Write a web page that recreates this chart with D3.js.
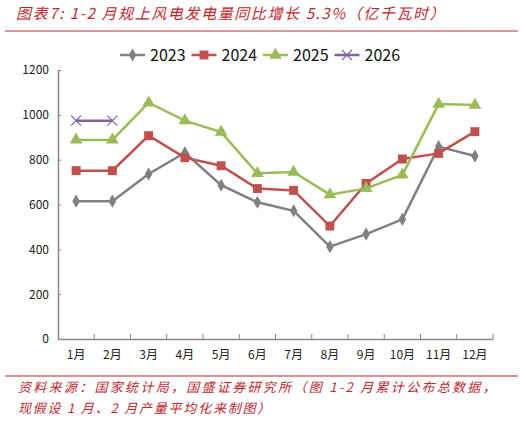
<!DOCTYPE html>
<html lang="zh">
<head>
<meta charset="UTF-8">
<title>风电发电量</title>
<style>
body { margin: 0; background: #fff; }
text { font-family: 'Noto Sans CJK SC', 'DejaVu Sans', sans-serif; }
.note { fill: #c0272d; font-style: italic; }
.tick text { font-size: 12px; fill: #222; }
</style>
</head>
<body>
<svg width="526" height="421"></svg>
<script src="https://d3js.org/d3.v7.min.js"></script>
<script>

var months = ["1月", "2月", "3月", "4月", "5月", "6月", "7月", "8月", "9月", "10月", "11月", "12月"];
var yTicks = [0, 200, 400, 600, 800, 1000, 1200];

var v2023 = [615, 615, 736, 831, 686, 610, 572, 412, 468, 534, 858, 816];
var v2024 = [751, 751, 907, 809, 773, 671, 663, 504, 694, 803, 828, 925];
var v2025 = [888, 888, 1054, 974, 923, 739, 745, 644, 672, 732, 1048, 1044];
var v2026 = [974, 974];

var series = [
    {name: "2023", values: v2023, color: "#808080", shape: d3.symbolDiamond, size: 50},
    {name: "2024", values: v2024, color: "#c0504d", shape: d3.symbolSquare, size: 80},
    {name: "2025", values: v2025, color: "#9bbb59", shape: d3.symbolTriangle, size: 70},
    {name: "2026", values: v2026, color: "#8064a2", shape: d3.symbolCross, size: 0}
];

var svg = d3.select("svg");
var plotLeft = 58, plotRight = 493, plotTop = 70, plotBottom = 339;

var x = d3.scaleBand().domain(months).range([plotLeft, plotRight]);
var y = d3.scaleLinear().domain([0, 1200]).range([plotBottom, plotTop]);

// title
svg.append("text").attr("class", "note")
    .attr("x", 16).attr("y", 19)
    .style("font-size", "15px").style("letter-spacing", "1.6px")
    .text("图表7:  1-2 月规上风电发电量同比增长 5.3%（亿千瓦时）");
svg.append("line").attr("x1", 5).attr("x2", 518).attr("y1", 31).attr("y2", 31)
    .attr("stroke", "#c0272d").attr("stroke-width", 1);

// axes
var yAxis = svg.append("g").attr("transform", "translate(" + plotLeft + ",0)")
    .call(d3.axisLeft(y).tickValues(yTicks).tickFormat(d3.format("d")).tickSize(0).tickPadding(9));
yAxis.select(".domain").attr("stroke", "#888").attr("stroke-width", 1.5);
yAxis.selectAll(".tick").append("line").attr("stroke", "#888").attr("x1", 0).attr("x2", 3);

var xAxis = svg.append("g").attr("transform", "translate(0," + plotBottom + ")")
    .call(d3.axisBottom(x).tickSize(0).tickPadding(11));
xAxis.select(".domain").attr("stroke", "#888").attr("stroke-width", 1.5);
xAxis.selectAll(".tick").filter(function(d, i) { return i > 0; }).append("line")
    .attr("x1", -x.bandwidth() / 2).attr("x2", -x.bandwidth() / 2)
    .attr("y1", 0).attr("y2", -5).attr("stroke", "#888");
xAxis.append("line")
    .attr("x1", plotRight).attr("x2", plotRight).attr("y1", 0).attr("y2", -5).attr("stroke", "#888");

// lines
var line = d3.line()
    .x(function(d, i) { return x(months[i]) + x.bandwidth() / 2; })
    .y(function(d) { return y(d); });

function drawMarker(g, s, cx, cy) {
    if (s.name === "2026") {
        var r = 5;
        g.append("path")
            .attr("d", "M" + (cx - r) + "," + (cy - r) + "L" + (cx + r) + "," + (cy + r) +
                "M" + (cx - r) + "," + (cy + r) + "L" + (cx + r) + "," + (cy - r))
            .attr("stroke", s.color).attr("stroke-width", 1.2).attr("fill", "none");
    } else {
        g.append("path")
            .attr("d", d3.symbol().type(s.shape).size(s.size)())
            .attr("transform", "translate(" + cx + "," + cy + ")")
            .attr("fill", s.color);
    }
}

series.forEach(function(s) {
    var g = svg.append("g");
    g.append("path").datum(s.values)
        .attr("d", line)
        .attr("fill", "none")
        .attr("stroke", s.color)
        .attr("stroke-width", 2.5);
    s.values.forEach(function(v, i) {
        drawMarker(g, s, x(months[i]) + x.bandwidth() / 2, y(v));
    });
});

// legend
var legend = svg.append("g");
series.forEach(function(s, i) {
    var lx = 120 + i * 71.5, ly = 55;
    var g = legend.append("g");
    g.append("line").attr("x1", lx).attr("x2", lx + 25).attr("y1", ly).attr("y2", ly)
        .attr("stroke", s.color).attr("stroke-width", 2.5);
    drawMarker(g, s, lx + 12.5, ly);
    g.append("text").attr("x", lx + 30).attr("y", ly + 6)
        .style("font-size", "16px").attr("fill", "#111")
        .text(s.name);
});

// source
svg.append("line").attr("x1", 5).attr("x2", 518).attr("y1", 376).attr("y2", 376)
    .attr("stroke", "#c0272d").attr("stroke-width", 1);
svg.append("text").attr("class", "note")
    .attr("x", 18).attr("y", 392)
    .style("font-size", "13px").style("letter-spacing", "2.3px")
    .text("资料来源：国家统计局，国盛证券研究所（图 1-2 月累计公布总数据，");
svg.append("text").attr("class", "note")
    .attr("x", 18).attr("y", 413)
    .style("font-size", "13px").style("letter-spacing", "1.8px")
    .text("现假设 1 月、2 月产量平均化来制图）");

</script>
</body>
</html>
